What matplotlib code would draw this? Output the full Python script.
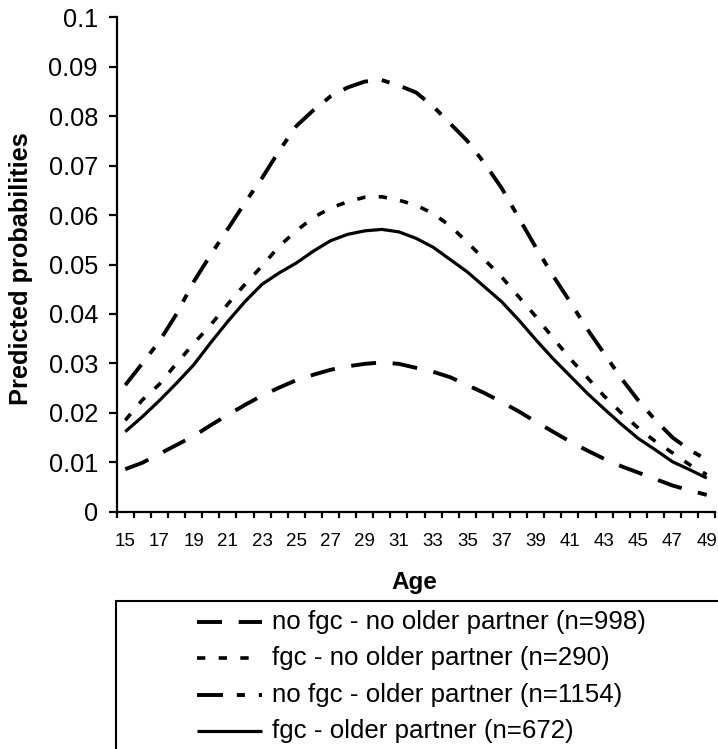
import matplotlib
matplotlib.use("Agg")
import matplotlib.pyplot as plt
from matplotlib.lines import Line2D
from matplotlib.patches import Rectangle

plt.rcParams['font.family'] = ['Liberation Sans', 'DejaVu Sans']
plt.rcParams['lines.scale_dashes'] = False

ages = list(range(15, 50))

no_fgc_no_older = [0.0086, 0.0099, 0.0117, 0.0135, 0.0153, 0.0175, 0.0196, 0.0216, 0.0235, 0.0251,
                   0.0266, 0.0277, 0.0287, 0.0294, 0.0299, 0.0302, 0.0299, 0.0291, 0.0283, 0.0272,
                   0.0256, 0.0240, 0.0222, 0.0203, 0.0182, 0.0162, 0.0142, 0.0124, 0.0107, 0.0092,
                   0.0079, 0.0066, 0.0053, 0.0043, 0.0034]
fgc_no_older = [0.0185, 0.0226, 0.0258, 0.0300, 0.0340, 0.0378, 0.0420, 0.0460, 0.0497, 0.0537,
                0.0568, 0.0595, 0.0614, 0.0627, 0.0636, 0.0637, 0.0630, 0.0620, 0.0603, 0.0578,
                0.0545, 0.0510, 0.0475, 0.0435, 0.0395, 0.0352, 0.0310, 0.0272, 0.0234, 0.0200,
                0.0169, 0.0142, 0.0119, 0.0095, 0.0075]
no_fgc_older = [0.0256, 0.0300, 0.0345, 0.0400, 0.0465, 0.0520, 0.0572, 0.0625, 0.0675, 0.0730,
                0.0780, 0.0812, 0.0840, 0.0858, 0.0870, 0.0873, 0.0862, 0.0848, 0.0820, 0.0785,
                0.0750, 0.0705, 0.0655, 0.0595, 0.0535, 0.0478, 0.0425, 0.0370, 0.0320, 0.0270,
                0.0225, 0.0185, 0.0150, 0.0125, 0.0105]
fgc_older = [0.0162, 0.0192, 0.0225, 0.0260, 0.0297, 0.0342, 0.0385, 0.0425, 0.0460, 0.0483,
             0.0503, 0.0527, 0.0548, 0.0561, 0.0568, 0.0571, 0.0566, 0.0553, 0.0535, 0.0510,
             0.0485, 0.0455, 0.0425, 0.0388, 0.0348, 0.0310, 0.0275, 0.0240, 0.0208, 0.0177,
             0.0148, 0.0125, 0.0101, 0.0085, 0.0068]

labels = ["no fgc - no older partner (n=998)",
          "fgc - no older partner (n=290)",
          "no fgc - older partner (n=1154)",
          "fgc - older partner (n=672)"]

xtick_labels = [str(a) for a in range(15, 50, 2)]
ytick_vals = [0, 0.01, 0.02, 0.03, 0.04, 0.05, 0.06, 0.07, 0.08, 0.09, 0.1]
ytick_labels = ["0", "0.01", "0.02", "0.03", "0.04", "0.05", "0.06", "0.07", "0.08", "0.09", "0.1"]

styles = [
    dict(linestyle=(0, (18, 12)), lw=2.8),
    dict(linestyle=(0, (6, 9.6)), lw=2.6),
    dict(linestyle=(0, (18.7, 10, 5.8, 10)), lw=2.8),
    dict(linestyle='-', lw=2.3),
]
series = [no_fgc_no_older, fgc_no_older, no_fgc_older, fgc_older]

W, H = 718, 749
fig = plt.figure(figsize=(W / 100, H / 100), dpi=100)
ax = fig.add_axes([116.7 / W, 1 - 511.7 / H, (715.3 - 116.7) / W, (511.7 - 17.3) / H])

for vals, st in zip(series, styles):
    ax.plot(ages, vals, color='black', solid_capstyle='butt', **st)

ax.set_xlim(14.5, 49.5)
ax.set_ylim(0, 0.1)
for s in ['top', 'right']:
    ax.spines[s].set_visible(False)
for s in ['left', 'bottom']:
    ax.spines[s].set_linewidth(1.6)
    ax.spines[s].set_color('black')

ax.set_yticks(ytick_vals)
ax.set_yticklabels(ytick_labels, fontsize=18.3)
ax.tick_params(axis='y', direction='out', length=6, width=1.6, pad=7.5)

ax.set_xticks([a + 0.5 for a in range(14, 50)])
ax.set_xticklabels([])
ax.tick_params(axis='x', which='major', direction='out', length=4.3, width=1.6)
ax.set_xticks(list(range(15, 50, 2)), minor=True)
ax.set_xticklabels(xtick_labels, minor=True, fontsize=13.5)
ax.tick_params(axis='x', which='minor', length=0, pad=15.5)

fig.text(20.7 / W, 1 - 268.5 / H, "Predicted probabilities", rotation=90,
         ha='center', va='center', fontsize=18.3, fontweight='bold')
fig.text(414.7 / W, 1 - 582 / H, "Age", ha='center', va='center',
         fontsize=17.5, fontweight='bold')

# legend box (extends past figure edges)
fig.add_artist(Rectangle((115.7 / W, -0.1), 1.0, (1 - 601 / H) + 0.1,
                         transform=fig.transFigure, fill=False, ec='black',
                         lw=1.5, clip_on=False))
ys = [621.7, 658.2, 694.7, 731.2]
for lab, st, y in zip(labels, styles, ys):
    yf = 1 - y / H
    fig.add_artist(Line2D([196.7 / W, 261.7 / W], [yf, yf], transform=fig.transFigure,
                          color='black', solid_capstyle='butt', **st))
    fig.text(271.7 / W, yf, lab, ha='left', va='center', fontsize=18.6)

fig.savefig("out.png", dpi=100)
